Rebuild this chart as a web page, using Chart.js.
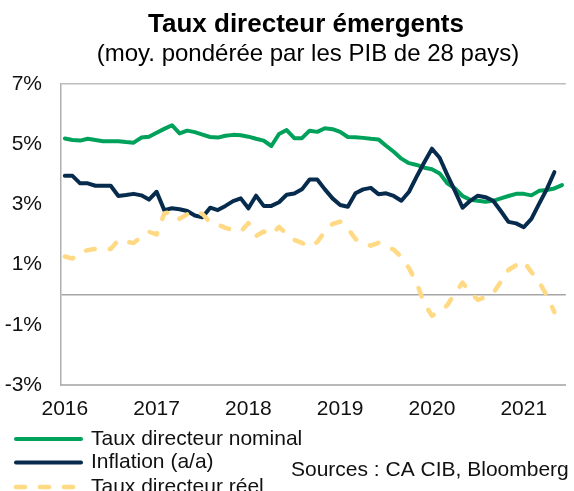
<!DOCTYPE html>
<html>
<head>
<meta charset="utf-8">
<script src="https://cdn.jsdelivr.net/npm/chart.js@4"></script>
<style>
  html, body { margin: 0; padding: 0; background: #fff; overflow: hidden; }
  #wrap { width: 574px; height: 491px; }
</style>
</head>
<body>
<div id="wrap"><canvas id="chart" width="574" height="491"></canvas></div>
<script>
// data, monthly from Jan 2016
const years = ["2016", "2017", "2018", "2019", "2020", "2021"];

const nominal = [
  5.19, 5.14, 5.12, 5.18, 5.14, 5.10, 5.10, 5.10, 5.07, 5.05,
  5.22, 5.25, 5.38, 5.51, 5.63, 5.36, 5.45, 5.40, 5.32, 5.24,
  5.22, 5.28, 5.31, 5.30, 5.25, 5.18, 5.12, 4.94, 5.34, 5.47,
  5.20, 5.20, 5.45, 5.41, 5.53, 5.50, 5.41, 5.24, 5.23, 5.21,
  5.18, 5.16, 4.95, 4.75, 4.52, 4.37, 4.31, 4.22, 4.17, 4.03,
  3.70, 3.53, 3.28, 3.15, 3.12, 3.09, 3.12, 3.20, 3.28, 3.35,
  3.35, 3.30, 3.45, 3.48, 3.53, 3.64,
];

const inflation = [
  3.95, 3.95, 3.70, 3.70, 3.62, 3.62, 3.62, 3.28, 3.31, 3.35,
  3.30, 3.16, 3.42, 2.81, 2.87, 2.84, 2.78, 2.63, 2.57, 2.89,
  2.81, 2.95, 3.11, 3.20, 2.87, 3.29, 2.95, 2.95, 3.07, 3.32,
  3.36, 3.50, 3.83, 3.83, 3.50, 3.20, 2.98, 2.92, 3.37, 3.50,
  3.55, 3.34, 3.37, 3.28, 3.12, 3.42, 3.92, 4.40, 4.85, 4.55,
  3.98, 3.45, 2.89, 3.12, 3.29, 3.24, 3.12, 2.78, 2.42, 2.37,
  2.24, 2.52, 3.02, 3.50, 4.07,
];

const real = [
  1.27, 1.20, 1.42, 1.48, 1.52, 1.50, 1.52, 1.82, 1.76, 1.72,
  1.92, 2.09, 2.00, 2.70, 2.76, 2.52, 2.67, 2.77, 2.68, 2.40,
  2.33, 2.22, 2.15, 2.10, 2.38, 1.95, 2.10, 1.99, 2.25, 2.02,
  1.82, 1.72, 1.60, 1.75, 2.10, 2.35, 2.43, 2.20, 1.85, 1.71,
  1.63, 1.72, 1.58, 1.50, 1.25, 0.88, 0.39, -0.30, -0.70, -0.55,
  -0.35, 0.05, 0.40, 0.07, -0.17, -0.08, 0.05, 0.43, 0.82, 0.98,
  1.11, 0.75, 0.43, -0.02, -0.58,
];

const seriesNames = ["Taux directeur nominal", "Inflation (a/a)", "Taux directeur réel"];
const sourceText = "Sources : CA CIB, Bloomberg";

// month labels "2016-01" ...
const months = [];
years.forEach((y) => {
  for (let m = 1; m <= 12; m++) {
    if (months.length < nominal.length) months.push(y + "-" + String(m).padStart(2, "0"));
  }
});

const FONT = "'Liberation Sans', Arial, sans-serif";
Chart.defaults.font.family = FONT;
Chart.defaults.color = "#111";

// title, legend and source drawn on the canvas
const textPlugin = {
  id: "texts",
  afterDraw(chart) {
    const ctx = chart.ctx;
    ctx.save();
    ctx.fillStyle = "#000";
    ctx.textAlign = "center";
    ctx.textBaseline = "alphabetic";
    ctx.font = "bold 26px " + FONT;
    ctx.fillText("Taux directeur émergents", 306, 32);
    ctx.font = "24px " + FONT;
    ctx.fillText("(moy. pondérée par les PIB de 28 pays)", 308, 61);

    // legend
    const rows = [439, 462.5, 487];
    ctx.font = "21px " + FONT;
    ctx.textAlign = "left";
    ctx.textBaseline = "middle";
    chart.data.datasets.forEach((ds, i) => {
      const y = rows[i];
      ctx.save();
      ctx.strokeStyle = ds.borderColor;
      ctx.lineWidth = ds.borderWidth;
      ctx.lineCap = ds.borderCapStyle || "butt";
      ctx.setLineDash(ds.borderDash || []);
      ctx.beginPath();
      ctx.moveTo(16, y);
      ctx.lineTo(81, y);
      ctx.stroke();
      ctx.restore();
      ctx.fillStyle = "#111";
      ctx.fillText(ds.label, 91, y);
    });
    ctx.fillText(sourceText, 291, 470);
    ctx.restore();
  },
};

new Chart(document.getElementById("chart"), {
  type: "line",
  data: {
    labels: months,
    datasets: [
      {
        label: seriesNames[0],
        data: nominal,
        borderColor: "#00A25B",
        borderWidth: 4,
        borderCapStyle: "round",
        borderJoinStyle: "round",
        order: 3,
      },
      {
        label: seriesNames[1],
        data: inflation,
        borderColor: "#062B4D",
        borderWidth: 4,
        borderCapStyle: "round",
        borderJoinStyle: "round",
        order: 2,
      },
      {
        label: seriesNames[2],
        data: real,
        borderColor: "#FFD983",
        borderWidth: 4.5,
        borderDash: [9, 15],
        borderCapStyle: "round",
        borderJoinStyle: "round",
        order: 1,
      },
    ],
  },
  options: {
    responsive: false,
    animation: false,
    devicePixelRatio: 1,
    layout: { padding: { top: 84, left: 0, right: 0, bottom: 0 } },
    elements: { point: { radius: 0 }, line: { tension: 0 } },
    plugins: {
      legend: { display: false },
      tooltip: { enabled: false },
    },
    scales: {
      x: {
        type: "category",
        offset: true,
        afterFit: (s) => { s.height = 106; },
        grid: { display: false, drawTicks: false },
        border: { display: true, color: "#b8b8b8", width: 2 },
        ticks: {
          autoSkip: false,
          maxRotation: 0,
          padding: 12,
          font: { size: 21 },
          color: "#111",
          callback: function (val) {
            const lab = this.getLabelForValue(val);
            return lab.endsWith("-01") ? lab.slice(0, 4) : "";
          },
        },
      },
      y: {
        min: -3,
        max: 7,
        afterFit: (s) => { s.width = 61; },
        afterBuildTicks: (s) => {
          s.ticks.push({ value: 0 });
          s.ticks.sort((a, b) => a.value - b.value);
        },
        grid: {
          drawTicks: false,
          lineWidth: 1.5,
          color: (c) => {
            if (!c.tick) return "transparent";
            if (c.tick.value === 0) return "#a6a6a6";
            if (c.tick.value === 7) return "#bcbcbc";
            return "transparent";
          },
        },
        border: { display: true, color: "#b0b0b0", width: 1.5 },
        ticks: {
          stepSize: 2,
          padding: 19,
          font: { size: 21 },
          color: "#111",
          callback: (v) => (v === 0 ? "" : v + "%"),
        },
      },
    },
  },
  plugins: [textPlugin],
});
</script>
</body>
</html>
